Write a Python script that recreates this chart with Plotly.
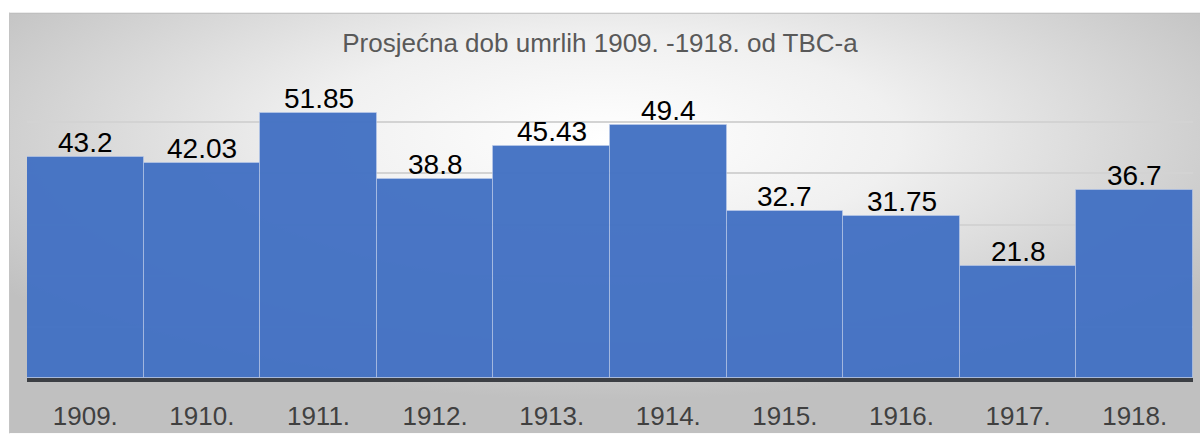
import base64
import plotly.graph_objects as go

# Average age of deaths from tuberculosis, per year
years = ["1909.", "1910.", "1911.", "1912.", "1913.", "1914.", "1915.", "1916.", "1917.", "1918."]
avg_age = [43.2, 42.03, 51.85, 38.8, 45.43, 49.4, 32.7, 31.75, 21.8, 36.7]
value_labels = ["43.2", "42.03", "51.85", "38.8", "45.43", "49.4", "32.7", "31.75", "21.8", "36.7"]
title_text = "Prosjećna dob umrlih 1909. -1918. od TBC-a"

FONT = "Liberation Sans, Arial, sans-serif"

# Soft radial grey backdrop for the chart card
svg = (
    '<svg xmlns="http://www.w3.org/2000/svg" width="1000" height="400" '
    'viewBox="0 0 1000 400" preserveAspectRatio="none">'
    '<defs><radialGradient id="g" cx="50%" cy="30%" r="62%">'
    '<stop offset="0%" stop-color="#ffffff"/>'
    '<stop offset="40%" stop-color="#f0f0f0"/>'
    '<stop offset="100%" stop-color="#c0c0c0"/>'
    '</radialGradient></defs>'
    '<rect x="0" y="0" width="1000" height="400" fill="url(#g)"/>'
    '</svg>'
)
bg_uri = "data:image/svg+xml;base64," + base64.b64encode(svg.encode()).decode()

W, H = 1200, 438
ml, mr, mt, mb = 27, 7, 71, 56
pw, ph = W - ml - mr, H - mt - mb


def px_x(x):
    return (x - ml) / pw


def px_y(y):
    return (H - mb - y) / ph


fig = go.Figure(
    go.Bar(
        x=years,
        y=avg_age,
        marker=dict(color="#4472C4", line=dict(color="rgba(190,205,235,0.6)", width=1)),
        opacity=0.97,
        hoverinfo="x+y",
    )
)

# Value labels sitting just above each bar (category axes take the serial index)
for idx, (val, lab) in enumerate(zip(avg_age, value_labels)):
    fig.add_annotation(
        x=idx,
        y=val,
        text=lab,
        showarrow=False,
        yanchor="bottom",
        yshift=-3,
        font=dict(family=FONT, size=28, color="#000000"),
    )

fig.update_layout(
    width=W,
    height=H,
    margin=dict(l=ml, r=mr, t=mt, b=mb),
    paper_bgcolor="white",
    plot_bgcolor="rgba(0,0,0,0)",
    bargap=0,
    showlegend=False,
    title=dict(
        text=title_text,
        x=0.5,
        xanchor="center",
        y=1 - 43 / H,
        yanchor="middle",
        font=dict(family=FONT, size=26, color="#595959"),
    ),
    images=[
        dict(
            source=bg_uri,
            xref="paper",
            yref="paper",
            x=px_x(9),
            y=px_y(12),
            sizex=px_x(1200) - px_x(9),
            sizey=px_y(12) - px_y(438),
            xanchor="left",
            yanchor="top",
            sizing="stretch",
            layer="below",
        )
    ],
    shapes=[
        dict(
            type="line",
            xref="paper",
            yref="paper",
            x0=px_x(9),
            x1=px_x(1200),
            y0=px_y(12.5),
            y1=px_y(12.5),
            line=dict(color="#bdbdbd", width=1),
            layer="below",
        ),
        dict(
            type="line",
            xref="paper",
            yref="paper",
            x0=px_x(9.5),
            x1=px_x(9.5),
            y0=px_y(12),
            y1=px_y(438),
            line=dict(color="#c4c4c4", width=1),
            layer="below",
        ),
    ],
    xaxis=dict(
        type="category",
        categoryorder="array",
        categoryarray=years,
        range=[-0.5, len(years) - 0.5],
        showgrid=False,
        showline=True,
        linecolor="#3c3f44",
        linewidth=4,
        ticks="",
        tickfont=dict(family=FONT, size=26, color="#404040"),
        ticklabelstandoff=12,
    ),
    yaxis=dict(
        range=[0, 60],
        dtick=10,
        showgrid=True,
        gridcolor="#d3d3d3",
        gridwidth=1.5,
        showticklabels=False,
        zeroline=False,
        fixedrange=True,
    ),
)

fig.write_html("out.html")
